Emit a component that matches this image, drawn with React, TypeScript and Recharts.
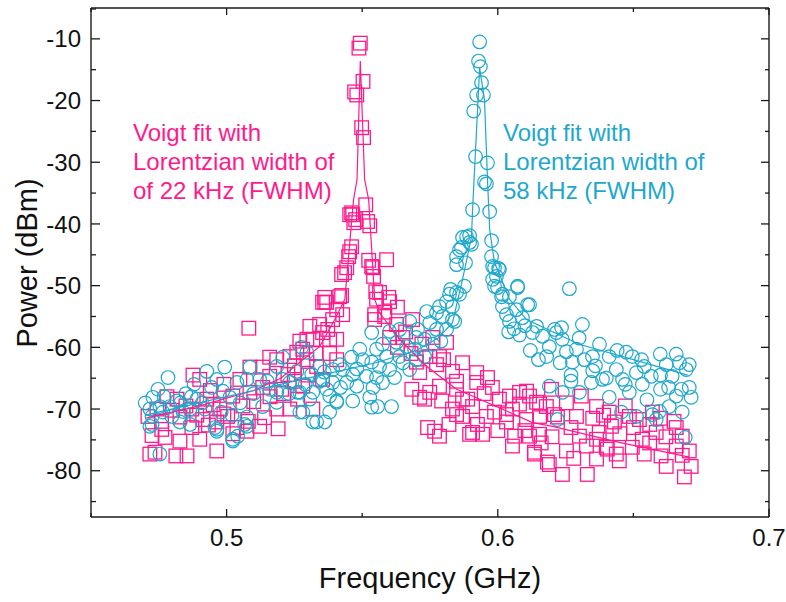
import { Scatter, ScatterChart, XAxis, YAxis } from "recharts";

const PINK = "#ff1a8c";
const BLUE = "#1ea8cc";
const INK = "#1a1a1a";
const FONT = "'Liberation Sans', Arial, Helvetica, sans-serif";

// plot frame in px (axis lines)
const LEFT = 91;
const RIGHT = 769;
const TOP = 8;
const BOTTOM = 517;

const xTicks = [0.45, 0.5, 0.55, 0.6, 0.65, 0.7];
const yTicks = [-85, -80, -75, -70, -65, -60, -55, -50, -45, -40, -35, -30, -25, -20, -15, -10, -5];

type P = [number, number];

// 22 kHz resonance, squares (GHz, dBm)
const narrowPts: P[] = [
  [0.4717, -77.3], [0.4736, -77.0], [0.4813, -77.6], [0.4854, -77.6], [0.4964, -76.8],
  [0.4773, -74.6], [0.4828, -75.2], [0.4901, -74.9], [0.4725, -74.3], [0.4761, -73.3],
  [0.4872, -73.0], [0.4933, -72.6], [0.5023, -74.0], [0.508, -72.0], [0.514, -71.4], [0.519, -73.2],
  [0.471, -71.2], [0.4743, -70.0], [0.4828, -71.3], [0.4872, -70.0], [0.4912, -71.7], [0.4964, -72.1],
  [0.5004, -71.2], [0.5038, -73.0], [0.5075, -73.6], [0.5122, -72.8],
  [0.4817, -68.4], [0.478, -68.0], [0.485, -69.5], [0.4927, -68.4], [0.4975, -70.0], [0.494, -67.0],
  [0.499, -66.0], [0.5023, -67.9], [0.5086, -67.3], [0.5133, -66.5], [0.5203, -66.8], [0.5281, -66.3],
  [0.5354, -65.2], [0.4876, -64.5], [0.4901, -65.2], [0.5049, -65.2], [0.5159, -64.7], [0.5226, -64.4],
  [0.5086, -63.2], [0.5133, -63.2], [0.5262, -68.4], [0.5318, -70.0], [0.5233, -70.0], [0.5185, -70.0],
  [0.5159, -61.6], [0.5185, -62.0], [0.5233, -61.5], [0.5281, -60.3], [0.5332, -63.1], [0.5406, -62.0],
  [0.5259, -60.8], [0.5296, -62.0], [0.5082, -56.9],
  [0.476, -72.0], [0.48, -70.2], [0.489, -71.0], [0.495, -69.3], [0.499, -70.8], [0.506, -69.5],
  [0.51, -68.8], [0.516, -68.0], [0.521, -67.5], [0.525, -65.5], [0.53, -64.5], [0.533, -61.0],
  [0.538, -61.0], [0.525, -63.0],
  [0.5307, -56.6], [0.5343, -56.3], [0.5354, -52.7], [0.5406, -53.9], [0.538, -58.7], [0.5354, -57.6],
  [0.5318, -58.7], [0.5296, -58.7], [0.527, -59.0], [0.5373, -57.1], [0.5406, -58.7], [0.5391, -55.5],
  [0.5428, -54.7], [0.5362, -52.7], [0.5369, -52.7], [0.5417, -51.8],
  [0.5424, -51.6], [0.5362, -51.9], [0.5435, -47.9], [0.5443, -47.1], [0.545, -45.3], [0.5461, -43.7],
  [0.5454, -44.5], [0.5424, -48.2], [0.5465, -38.5], [0.5454, -38.5], [0.5469, -39.8], [0.5461, -38.2],
  [0.5476, -39.3], [0.5513, -36.9], [0.552, -39.6], [0.5528, -40.3],
  [0.5498, -24.4], [0.5505, -26.0], [0.5503, -16.9], [0.5472, -18.6], [0.548, -19.1], [0.5493, -10.7],
  [0.5488, -11.5],
  [0.5524, -45.9], [0.559, -45.8], [0.5539, -47.1], [0.5542, -48.5], [0.5535, -46.9], [0.555, -51.0],
  [0.5598, -51.9], [0.5564, -51.1], [0.5601, -52.6], [0.563, -53.5], [0.5546, -54.7], [0.5583, -54.3],
  [0.5553, -52.2], [0.5583, -55.0], [0.5546, -55.5], [0.5686, -55.5], [0.5627, -56.3], [0.5601, -58.4],
  [0.5649, -58.4], [0.576, -58.4], [0.5811, -59.2], [0.5785, -61.5], [0.5749, -61.5], [0.57, -62.4],
  [0.5712, -64.1], [0.5774, -62.8], [0.5683, -66.8], [0.573, -68.4], [0.5712, -68.1], [0.5785, -66.3],
  [0.5767, -73.6], [0.5785, -74.4], [0.5741, -73.0],
  [0.566, -57.5], [0.572, -59.5], [0.568, -61.0], [0.563, -60.0], [0.58, -62.0],
  [0.5922, -64.1], [0.5962, -64.9], [0.5922, -65.7], [0.5848, -66.8], [0.587, -68.4], [0.5907, -69.6],
  [0.5958, -71.2], [0.5848, -70.9], [0.5907, -73.8], [0.5944, -74.1], [0.5833, -63.9], [0.5848, -65.5],
  [0.5749, -67.3], [0.5793, -68.7], [0.5833, -70.0], [0.5889, -68.4], [0.587, -71.2], [0.5925, -72.5],
  [0.5896, -74.1], [0.5988, -70.5], [0.587, -62.5], [0.582, -72.5], [0.598, -66.5], [0.6, -73.5],
  [0.595, -67.5],
  [0.6006, -68.4], [0.6043, -67.9], [0.608, -67.3], [0.6054, -70.0], [0.6032, -72.1], [0.6054, -76.0],
  [0.6135, -77.0], [0.6117, -74.4], [0.6154, -71.2], [0.6179, -69.6], [0.6183, -78.6], [0.6117, -67.9],
  [0.6106, -67.1], [0.608, -69.2], [0.6143, -68.9], [0.6032, -70.9], [0.6106, -71.7], [0.6062, -74.4],
  [0.6154, -74.1], [0.6238, -80.6], [0.6253, -76.8], [0.622, -71.3], [0.629, -71.2], [0.6301, -74.4],
  [0.6327, -76.0], [0.6374, -73.8], [0.64, -76.2], [0.633, -80.6], [0.6364, -78.1], [0.6419, -72.8],
  [0.6437, -77.3], [0.6198, -66.8], [0.6154, -69.2], [0.6209, -70.9], [0.6308, -67.9], [0.6364, -69.6],
  [0.6411, -70.5], [0.643, -72.1], [0.6485, -71.2], [0.6522, -71.7], [0.657, -70.5], [0.6658, -73.0],
  [0.668, -74.4], [0.6706, -76.8], [0.6713, -79.3], [0.6688, -81.0], [0.6621, -79.3], [0.6496, -76.2],
  [0.6448, -78.4], [0.619, -79.0], [0.6364, -74.9], [0.6404, -76.5], [0.6533, -74.9], [0.6584, -73.8],
  [0.6602, -77.6], [0.654, -77.3], [0.6658, -76.0], [0.6135, -77.3], [0.6253, -69.0], [0.647, -69.5],
  [0.66, -71.5], [0.665, -72.0],
  [0.61, -73.5], [0.62, -74.5], [0.627, -73.0], [0.635, -71.5], [0.645, -74.0], [0.65, -73.0],
  [0.656, -75.5], [0.662, -74.5], [0.668, -77.5], [0.656, -72.5], [0.628, -78.0], [0.616, -75.5],
  [0.639, -71.0],
];

// 58 kHz resonance, circles (GHz, dBm)
const widePts: P[] = [
  [0.4784, -64.9], [0.4747, -66.8], [0.4728, -68.1], [0.4725, -71.2], [0.4717, -72.8], [0.4754, -69.6],
  [0.4791, -69.6], [0.4817, -68.7], [0.4839, -70.4], [0.4828, -72.1], [0.4865, -72.5], [0.489, -68.4],
  [0.4927, -63.9], [0.4993, -63.2], [0.4964, -65.2], [0.4986, -67.1], [0.492, -70.0], [0.4957, -73.0],
  [0.4964, -73.6], [0.5023, -74.9], [0.5041, -74.4], [0.5067, -72.5], [0.5075, -71.3], [0.5012, -68.1],
  [0.5038, -65.7], [0.5086, -63.2], [0.5075, -65.2], [0.5122, -65.2], [0.5159, -66.8], [0.5133, -69.6],
  [0.5185, -68.9], [0.5185, -63.1], [0.5207, -65.2], [0.5259, -63.9], [0.5277, -60.0], [0.5296, -60.8],
  [0.5207, -61.6], [0.5233, -65.7], [0.5262, -67.3], [0.527, -70.5], [0.5307, -68.4], [0.5343, -65.5],
  [0.538, -67.9], [0.5406, -68.9], [0.538, -70.5], [0.5185, -67.3], [0.4865, -70.0], [0.4765, -70.5],
  [0.4798, -71.2], [0.4717, -70.0], [0.4725, -72.5], [0.4754, -77.3], [0.5023, -75.2], [0.5075, -72.8],
  [0.4964, -73.3], [0.4945, -66.5], [0.488, -66.0], [0.485, -67.5],
  [0.47, -69.0], [0.477, -68.0], [0.483, -69.0], [0.487, -68.0], [0.491, -69.0], [0.498, -70.5],
  [0.502, -71.0], [0.505, -69.0], [0.51, -67.5], [0.515, -65.5], [0.523, -67.5], [0.529, -66.0],
  [0.5343, -63.1], [0.5314, -64.4], [0.5354, -65.2], [0.5391, -65.7], [0.5443, -65.7], [0.548, -66.3],
  [0.5575, -65.7], [0.5619, -64.9], [0.5675, -63.6], [0.573, -61.5], [0.527, -67.3], [0.5318, -67.3],
  [0.5369, -66.8], [0.5406, -68.7], [0.5465, -68.7], [0.5528, -68.1], [0.5557, -69.6], [0.5608, -69.6],
  [0.5535, -69.7], [0.5332, -72.1], [0.5362, -72.1], [0.5318, -72.1], [0.5281, -70.5],
  [0.5417, -62.8], [0.5391, -63.6], [0.5428, -63.6], [0.5465, -64.4], [0.5516, -64.7], [0.5553, -64.9],
  [0.5491, -60.3], [0.5461, -61.6], [0.5502, -62.0], [0.5535, -62.4], [0.5564, -63.1], [0.5601, -63.6],
  [0.5575, -59.5], [0.5553, -60.3], [0.5638, -61.5], [0.5627, -59.2], [0.5664, -59.9], [0.5693, -60.3],
  [0.5638, -57.1], [0.5601, -57.4], [0.5535, -57.6], [0.57, -58.4], [0.573, -58.7], [0.5704, -57.1],
  [0.5675, -55.8], [0.5738, -54.2], [0.5774, -54.4], [0.5796, -55.0], [0.5833, -55.5], [0.5749, -56.0],
  [0.5774, -57.1], [0.5811, -57.1],
  [0.536, -64.0], [0.542, -66.5], [0.548, -63.5], [0.554, -66.5], [0.559, -61.5], [0.565, -62.5],
  [0.57, -62.0], [0.576, -59.5], [0.579, -59.0],
  [0.5785, -53.4], [0.5833, -53.4], [0.5811, -52.6], [0.5822, -51.4], [0.5859, -51.4], [0.5841, -55.8],
  [0.5877, -50.1], [0.5826, -50.6], [0.5848, -51.1], [0.5848, -46.6], [0.5881, -46.3], [0.5848, -45.3],
  [0.5859, -44.2], [0.5866, -43.8], [0.5896, -43.0], [0.587, -42.2], [0.5885, -42.1], [0.5896, -41.9],
  [0.5903, -43.3], [0.5907, -37.7],
  [0.5918, -29.1], [0.5911, -21.7], [0.5922, -19.1], [0.5947, -19.1], [0.594, -17.1], [0.5936, -14.5],
  [0.5929, -13.6], [0.5933, -10.5],
  [0.5962, -30.1], [0.5951, -33.2], [0.5958, -33.5], [0.597, -38.0], [0.5977, -42.7], [0.5977, -45.3],
  [0.5981, -46.9], [0.6003, -47.2], [0.5995, -48.5], [0.5988, -47.1], [0.6006, -47.4], [0.5981, -49.0],
  [0.5999, -50.3], [0.5988, -50.1], [0.6017, -51.4], [0.6073, -50.1], [0.6073, -50.3],
  [0.6014, -51.8], [0.6017, -53.4], [0.6043, -51.8], [0.6032, -54.7], [0.6069, -53.9], [0.611, -53.1],
  [0.6091, -55.2], [0.6043, -55.8], [0.6143, -56.6], [0.6209, -57.1], [0.6235, -56.8], [0.6312, -56.3],
  [0.6264, -50.5], [0.6117, -53.1], [0.6128, -57.6], [0.6165, -58.2], [0.6216, -57.6], [0.6238, -58.7],
  [0.619, -59.9], [0.6253, -60.7], [0.629, -60.3], [0.6319, -62.0], [0.6275, -62.4], [0.6349, -61.5],
  [0.6375, -59.5], [0.6411, -61.5], [0.6474, -60.8], [0.6496, -61.5], [0.6437, -63.6], [0.6386, -65.2],
  [0.6345, -65.7], [0.6301, -67.3], [0.6238, -67.3], [0.619, -66.3], [0.622, -71.7], [0.6411, -68.1],
  [0.6456, -70.5], [0.6511, -71.2], [0.657, -70.9], [0.6485, -67.3], [0.6533, -66.0], [0.6566, -64.7],
  [0.654, -63.1], [0.6599, -61.1], [0.6658, -61.1], [0.6621, -62.8], [0.6706, -62.8], [0.6695, -63.6],
  [0.6643, -64.7], [0.6706, -66.5], [0.6713, -68.1], [0.6677, -66.8], [0.6658, -67.9], [0.668, -70.5],
  [0.6632, -69.6], [0.6596, -70.4], [0.6584, -71.7], [0.6691, -74.6], [0.646, -65.2], [0.6511, -64.1],
  [0.608, -58.0], [0.612, -60.5], [0.606, -57.0], [0.615, -62.0], [0.627, -64.5], [0.635, -63.8],
  [0.604, -57.5], [0.61, -56.5], [0.618, -61.5], [0.623, -62.5], [0.63, -58.5], [0.636, -63.0],
  [0.64, -65.0], [0.644, -60.5], [0.653, -62.0], [0.66, -64.5], [0.663, -66.5], [0.655, -68.5],
  [0.647, -66.0], [0.627, -65.5], [0.667, -62.5], [0.66, -66.8],
];

// Voigt fit curves
const narrowFit: P[] = [
  [0.47, -71.5], [0.49, -69.5], [0.51, -67], [0.52, -65], [0.527, -62.4], [0.5343, -59.9],
  [0.5399, -55.5], [0.5436, -52.2], [0.5468, -36.1], [0.5481, -32.8], [0.5493, -13.6], [0.5509, -32.8],
  [0.5524, -36.1], [0.5546, -52.2], [0.5564, -54.4], [0.5638, -58.7], [0.5738, -63.1], [0.5848, -66.8],
  [0.5959, -68.9], [0.6128, -72.2], [0.6202, -72.8], [0.6448, -75.4], [0.6706, -77.8],
];
const wideFit: P[] = [
  [0.47, -71], [0.5, -68], [0.53, -65], [0.555, -62.5], [0.57, -60.5], [0.578, -58.5], [0.5833, -56.0],
  [0.587, -49.0], [0.5903, -42.1], [0.5907, -37.7], [0.5933, -14.7], [0.5951, -19.9], [0.5962, -32.8],
  [0.597, -40.9], [0.5988, -46.3], [0.6014, -49.0], [0.6043, -52.2], [0.6106, -55.5], [0.63, -59.5],
  [0.65, -62], [0.67, -64.5],
];

const rows = (a: P[]) => a.map(([f, p]) => ({ f, p }));

function Square(props: any) {
  const { cx, cy } = props;
  if (cx == null || cy == null) return <g />;
  return <rect x={cx - 6.8} y={cy - 6.8} width={13.6} height={13.6} fill="none" stroke={PINK} strokeWidth={1.3} />;
}

function Ring(props: any) {
  const { cx, cy } = props;
  if (cx == null || cy == null) return <g />;
  return <circle cx={cx} cy={cy} r={6.8} fill="none" stroke={BLUE} strokeWidth={1.2} />;
}

const isMajorX = (v: number) => Math.round(v * 100) % 10 === 0;
const isMajorY = (v: number) => Math.round(v) % 10 === 0;

// ticks point into the plot, labels only on the major ones
function BottomTick({ x, payload }: any) {
  const major = isMajorX(payload.value);
  return (
    <g>
      <line x1={x} x2={x} y1={BOTTOM} y2={BOTTOM - (major ? 8 : 4)} stroke={INK} strokeWidth={1.3} />
      {major && (
        <text x={x} y={BOTTOM + 29} textAnchor="middle" fontSize={24} fontFamily={FONT} fill="#111">
          {payload.value}
        </text>
      )}
    </g>
  );
}

function TopTick({ x, payload }: any) {
  const major = isMajorX(payload.value);
  return <line x1={x} x2={x} y1={TOP} y2={TOP + (major ? 7 : 4)} stroke={INK} strokeWidth={1.3} />;
}

function LeftTick({ y, payload }: any) {
  const major = isMajorY(payload.value);
  return (
    <g>
      <line x1={LEFT} x2={LEFT + (major ? 9 : 5)} y1={y} y2={y} stroke={INK} strokeWidth={1.3} />
      {major && (
        <text x={81} y={y} dy="0.36em" textAnchor="end" fontSize={24} fontFamily={FONT} fill="#111">
          {payload.value}
        </text>
      )}
    </g>
  );
}

function RightTick({ y, payload }: any) {
  const major = isMajorY(payload.value);
  return <line x1={RIGHT} x2={RIGHT - (major ? 8 : 4)} y1={y} y2={y} stroke={INK} strokeWidth={1.3} />;
}

const axisLine = { stroke: INK, strokeWidth: 1.4 };

export default function App() {
  return (
    <div style={{ position: "absolute", left: 0, top: 0, background: "#fff" }}>
      {/* top/right axes get 1px of room so recharts draws them */}
      <ScatterChart width={786} height={602} margin={{ top: TOP - 1, right: 786 - RIGHT - 1, bottom: 0, left: 0 }}>
        <XAxis
          dataKey="f"
          type="number"
          domain={[0.45, 0.7]}
          ticks={xTicks}
          allowDataOverflow
          height={602 - BOTTOM}
          tickLine={false}
          tick={<BottomTick />}
          axisLine={axisLine}
        />
        <XAxis
          xAxisId="t"
          dataKey="f"
          orientation="top"
          type="number"
          domain={[0.45, 0.7]}
          ticks={xTicks}
          allowDataOverflow
          height={1}
          tickLine={false}
          tick={<TopTick />}
          axisLine={axisLine}
        />
        <YAxis
          dataKey="p"
          type="number"
          domain={[-87.5, -5]}
          ticks={yTicks}
          allowDataOverflow
          width={LEFT}
          tickLine={false}
          tick={<LeftTick />}
          axisLine={axisLine}
        />
        <YAxis
          yAxisId="r"
          dataKey="p"
          orientation="right"
          type="number"
          domain={[-87.5, -5]}
          ticks={yTicks}
          allowDataOverflow
          width={1}
          tickLine={false}
          tick={<RightTick />}
          axisLine={axisLine}
        />
        <Scatter data={rows(narrowPts)} shape={<Square />} isAnimationActive={false} />
        <Scatter data={rows(widePts)} shape={<Ring />} isAnimationActive={false} />
        <Scatter
          data={rows(narrowFit)}
          line={{ stroke: PINK, strokeWidth: 1.2 }}
          shape={() => <g />}
          isAnimationActive={false}
        />
        <Scatter
          data={rows(wideFit)}
          line={{ stroke: BLUE, strokeWidth: 1.2 }}
          shape={() => <g />}
          isAnimationActive={false}
        />
        {/* invisible series so the mirrored top/right axes get drawn */}
        <Scatter
          xAxisId="t"
          yAxisId="r"
          data={rows(wideFit)}
          shape={() => <g />}
          isAnimationActive={false}
        />
        <text fill={PINK} fontSize={24} fontFamily={FONT}>
          <tspan x={133} y={141}>Voigt fit with</tspan>
          <tspan x={133} y={170}>Lorentzian width of</tspan>
          <tspan x={133} y={199}>of 22 kHz (FWHM)</tspan>
        </text>
        <text fill={BLUE} fontSize={24} fontFamily={FONT}>
          <tspan x={503} y={141}>Voigt fit with</tspan>
          <tspan x={503} y={170}>Lorentzian width of</tspan>
          <tspan x={503} y={199}>58 kHz (FWHM)</tspan>
        </text>
        <text x={430} y={588} textAnchor="middle" fontSize={29} fontFamily={FONT} fill="#111">
          Frequency (GHz)
        </text>
        <text
          x={37}
          y={263}
          textAnchor="middle"
          fontSize={29}
          fontFamily={FONT}
          fill="#111"
          transform="rotate(-90 37 263)"
        >
          Power (dBm)
        </text>
      </ScatterChart>
    </div>
  );
}
